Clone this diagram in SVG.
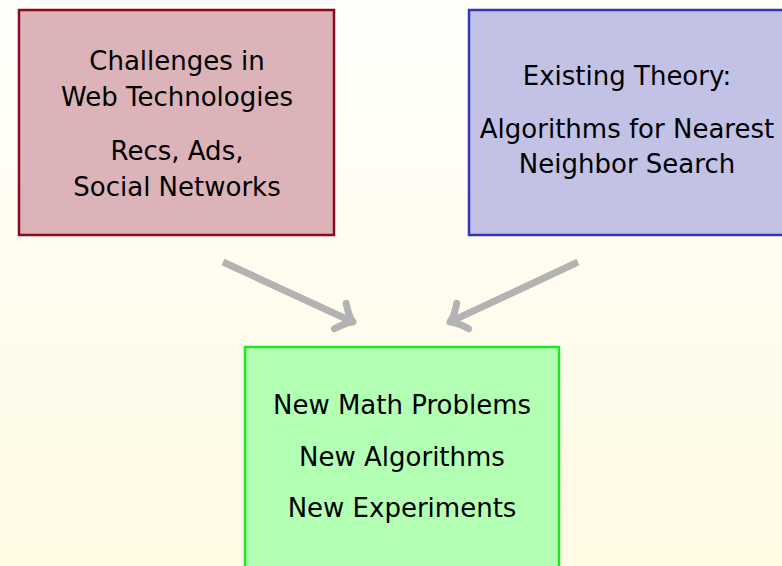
<svg xmlns="http://www.w3.org/2000/svg" width="782" height="566" viewBox="0 0 782 566">
  <defs>
    <linearGradient id="bg" x1="0" y1="0" x2="0" y2="1">
      <stop offset="0" stop-color="#fffffb"/>
      <stop offset="1" stop-color="#fffae4"/>
    </linearGradient>
    <marker id="to" markerUnits="userSpaceOnUse" markerWidth="40" markerHeight="40" refX="-3" refY="0" orient="auto" overflow="visible">
      <path d="M -14,-14 Q -6,-3 0,0 Q -6,3 -14,14" fill="none" stroke="#b3b3b3" stroke-width="7" stroke-linecap="round" stroke-linejoin="round"/>
    </marker>
    <style>
      .box text { font-family: "DejaVu Sans", "Liberation Sans", sans-serif; font-size: 26px; fill: #000; text-anchor: middle; }
      .web { fill: #dbb3b8; stroke: #8a0a22; stroke-width: 2.5; }
      .theory { fill: #c2c2e6; stroke: #3636b8; stroke-width: 2.5; }
      .result { fill: #b3ffb3; stroke: #1ee81e; stroke-width: 2.5; }
      .flow { stroke: #b3b3b3; stroke-width: 7; fill: none; marker-end: url(#to); }
    </style>
  </defs>

  <rect x="0" y="0" width="782" height="566" fill="url(#bg)"/>

  <g id="web-challenges" class="box">
    <rect class="web" x="19" y="10" width="315" height="225"/>
    <text x="177" y="70">Challenges in</text>
    <text x="177" y="106">Web Technologies</text>
    <text x="177" y="160">Recs, Ads,</text>
    <text x="177" y="196">Social Networks</text>
  </g>

  <g id="existing-theory" class="box">
    <rect class="theory" x="469" y="10" width="318" height="225"/>
    <text x="627" y="85">Existing Theory:</text>
    <text x="627" y="138">Algorithms for Nearest</text>
    <text x="627" y="173">Neighbor Search</text>
  </g>

  <g id="new-results" class="box">
    <rect class="result" x="245" y="347" width="314" height="230"/>
    <text x="402" y="414">New Math Problems</text>
    <text x="402" y="466">New Algorithms</text>
    <text x="402" y="517">New Experiments</text>
  </g>

  <g id="connectors">
    <line class="flow" x1="223" y1="262" x2="350.3" y2="320.7"/>
    <line class="flow" x1="578" y1="262" x2="452.7" y2="320.7"/>
  </g>
</svg>
